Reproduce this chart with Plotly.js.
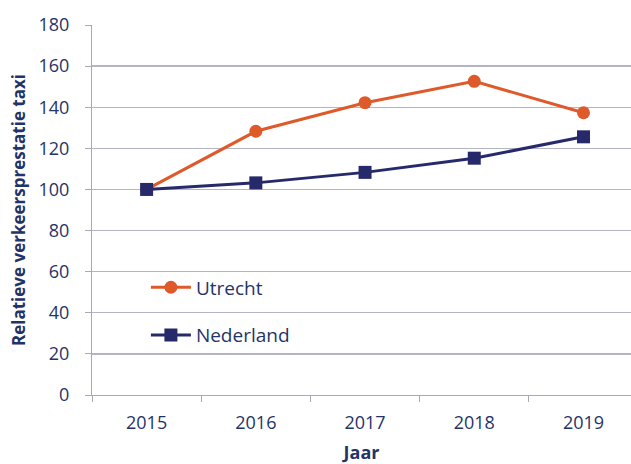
<!DOCTYPE html>
<html>
<head>
<meta charset="utf-8">
<script src="https://cdn.plot.ly/plotly-3.0.1.min.js"></script>
<style>html,body{margin:0;padding:0;background:#fff}#chart{width:631px;height:464px}</style>
</head>
<body>
<div id="chart"></div>
<script>
const years = ["2015", "2016", "2017", "2018", "2019"];
const utrecht = [100, 128.3, 142.2, 152.6, 137.3];
const nederland = [100, 103.2, 108.3, 115.2, 125.6];
const yTicks = [0, 20, 40, 60, 80, 100, 120, 140, 160, 180];

const navyText = "#1F3468";
const font = "Open Sans, Liberation Sans, sans-serif";

const traces = [
  {
    x: years, y: utrecht, name: "Utrecht", type: "scatter", mode: "lines+markers",
    line: {color: "#DE5A2B", width: 3},
    marker: {symbol: "circle", size: 13, color: "#DE5A2B"},
    legendgroup: "a"
  },
  {
    x: years, y: nederland, name: "Nederland", type: "scatter", mode: "lines+markers",
    line: {color: "#262A6B", width: 3},
    marker: {symbol: "square", size: 13, color: "#262A6B"},
    legendgroup: "b"
  }
];

const layout = {
  width: 631, height: 464,
  margin: {l: 92, r: 0, t: 25, b: 69},
  paper_bgcolor: "#fff", plot_bgcolor: "#fff",
  font: {family: font, color: navyText, size: 18},
  showlegend: true,
  legend: {
    x: 0.1, y: 0.226, xanchor: "left", yanchor: "middle",
    bgcolor: "rgba(0,0,0,0)",
    font: {size: 19, color: navyText},
    traceorder: "grouped", tracegroupgap: 20,
    itemwidth: 40
  },
  xaxis: {
    type: "category",
    range: [-0.5, 4.435],
    tickson: "boundaries",
    ticks: "outside", ticklen: 6, tickcolor: "#A8A8B8",
    showgrid: false, zeroline: false,
    showline: true, linecolor: "#A8A8B8", linewidth: 1,
    ticklabelstandoff: 11,
    tickfont: {size: 18, color: navyText},
    title: {text: "<b>Jaar</b>", font: {size: 18, color: navyText}, standoff: 14}
  },
  yaxis: {
    range: [0, 180],
    tickvals: yTicks,
    ticks: "outside", ticklen: 6, tickcolor: "#A8A8B8",
    showgrid: true, gridcolor: "#B4B4C4", gridwidth: 1.3,
    zeroline: false,
    showline: true, linecolor: "#A8A8B8", linewidth: 1,
    ticklabelstandoff: 12,
    tickfont: {size: 18, color: navyText},
    title: {text: "<b>Relatieve verkeersprestatie taxi</b>", font: {size: 17, color: navyText}, standoff: 8}
  }
};

Plotly.newPlot("chart", traces, layout, {displayModeBar: false, staticPlot: true});
</script>
</body>
</html>
